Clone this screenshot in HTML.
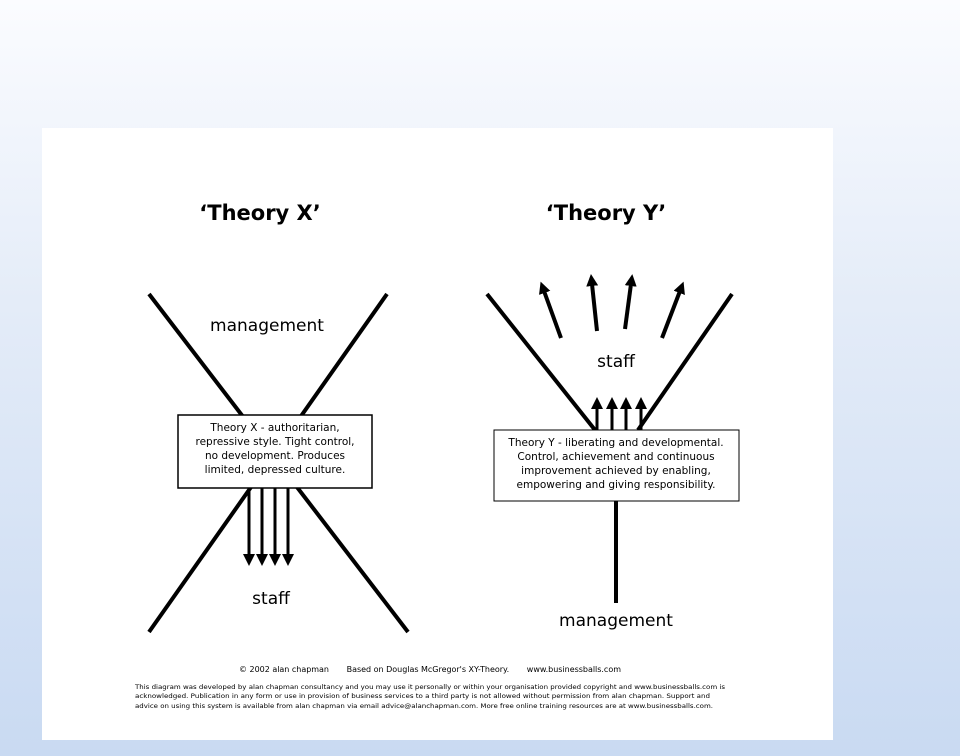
<!DOCTYPE html>
<html><head><style>
html,body{margin:0;padding:0;}
body{width:960px;height:756px;background:linear-gradient(to bottom,#fbfcff 0%,#e4ecf8 40%,#c9daf2 100%);position:relative;overflow:hidden;font-family:"DejaVu Sans","Liberation Sans",sans-serif;}
.panel{position:absolute;left:42px;top:128px;width:791px;height:612px;background:#fff;}
svg{position:absolute;left:0;top:0;}
</style></head><body>
<div class="panel"></div>
<svg width="960" height="756" viewBox="0 0 960 756">
<defs>
<marker id="ah" markerWidth="12" markerHeight="12" refX="2" refY="6" orient="auto" markerUnits="userSpaceOnUse">
<path d="M0,0 L12,6 L0,12 z" fill="#000"/></marker>
</defs>
<g stroke="#000" stroke-width="4" fill="none" stroke-linecap="butt">
<line x1="149" y1="294" x2="408" y2="632"/>
<line x1="387" y1="294" x2="149" y2="632"/>
<line x1="487" y1="294" x2="595" y2="430"/>
<line x1="732" y1="294" x2="638" y2="430"/>
<line x1="616" y1="501" x2="616" y2="603"/>
</g>
<g stroke="#000" stroke-width="3" marker-end="url(#ah)">
<line x1="249" y1="488" x2="249" y2="556"/>
<line x1="262" y1="488" x2="262" y2="556"/>
<line x1="275" y1="488" x2="275" y2="556"/>
<line x1="288" y1="488" x2="288" y2="556"/>
<line x1="597" y1="430" x2="597" y2="407"/>
<line x1="612" y1="430" x2="612" y2="407"/>
<line x1="626" y1="430" x2="626" y2="407"/>
<line x1="641" y1="430" x2="641" y2="407"/>
</g>
<g stroke="#000" stroke-width="4" marker-end="url(#ah)">
<line x1="561" y1="338" x2="544" y2="291"/>
<line x1="597" y1="331" x2="592" y2="284"/>
<line x1="625" y1="329" x2="631" y2="284"/>
<line x1="662" y1="338" x2="680" y2="291"/>
</g>
<rect x="178" y="415" width="194" height="73" fill="#fff" stroke="#000" stroke-width="1.5"/>
<rect x="494" y="430" width="245" height="71" fill="#fff" stroke="#000" stroke-width="1"/>
<g font-family="'DejaVu Sans','Liberation Sans',sans-serif" text-anchor="middle" fill="#000">
<text x="260" y="220" font-size="21" font-weight="bold">‘Theory X’</text>
<text x="606" y="220" font-size="21" font-weight="bold">‘Theory Y’</text>
<text x="267" y="331" font-size="17">management</text>
<text x="616" y="367" font-size="17">staff</text>
<text x="271" y="604" font-size="17">staff</text>
<text x="616" y="626" font-size="17">management</text>
<g font-size="10.5">
<text x="275" y="431">Theory X - authoritarian,</text>
<text x="275" y="445">repressive style.  Tight control,</text>
<text x="275" y="459">no development.  Produces</text>
<text x="275" y="473">limited, depressed culture.</text>
<text x="616" y="446">Theory Y - liberating and  developmental.</text>
<text x="616" y="460">Control, achievement and continuous</text>
<text x="616" y="474">improvement achieved by enabling,</text>
<text x="616" y="488">empowering and giving responsibility.</text>
</g>
</g>
<g font-family="'DejaVu Sans','Liberation Sans',sans-serif" fill="#000">
<text x="239" y="672" font-size="8" xml:space="preserve" textLength="382" lengthAdjust="spacing">© 2002 alan chapman       Based on Douglas McGregor's XY-Theory.       www.businessballs.com</text>
<g font-size="6.2">
<text x="135" y="689" textLength="590" lengthAdjust="spacingAndGlyphs">This diagram was developed by alan chapman consultancy and you may use it personally or within your organisation provided copyright and www.businessballs.com is</text>
<text x="135" y="698" textLength="575" lengthAdjust="spacingAndGlyphs">acknowledged.  Publication in any form or use in provision of business services to a third party is not allowed without permission from alan chapman.  Support and</text>
<text x="135" y="708" textLength="578" lengthAdjust="spacingAndGlyphs">advice on using this system is available from alan chapman via email advice@alanchapman.com. More free online training resources are at www.businessballs.com.</text>
</g>
</g>
</svg>
</body></html>
